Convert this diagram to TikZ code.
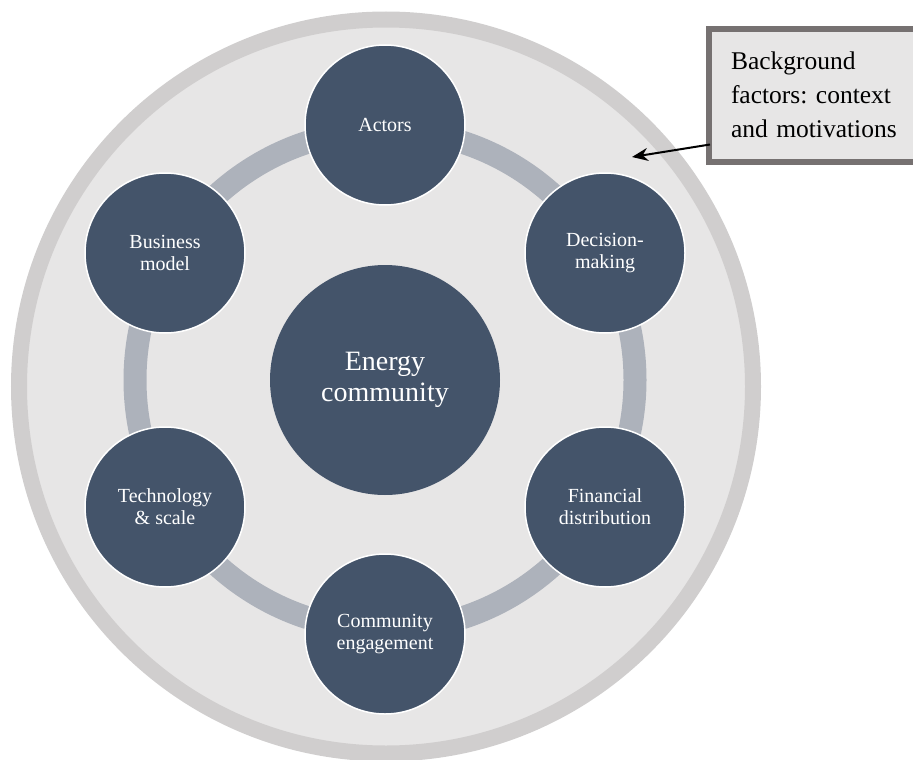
\documentclass[tikz,border=0pt]{standalone}
\usepackage{fontspec}
\setmainfont{Liberation Serif}
\usetikzlibrary{arrows.meta}
\definecolor{slate}{HTML}{44546A}
\definecolor{ringgray}{HTML}{ADB2BB}
\definecolor{paper}{HTML}{E7E6E6}
\definecolor{rimgray}{HTML}{D0CECE}
\definecolor{framegray}{HTML}{767171}
\tikzset{
  font={\fontsize{20pt}{22pt}\selectfont}}
\frenchspacing

\begin{document}
\begin{tikzpicture}[x=1pt, y=-1pt,
  topic/.style={draw=white, line width=1.5pt, fill=slate, shape=circle, minimum size=160pt, inner sep=0pt, text=white, align=center},
  hub/.style={fill=slate, shape=circle, minimum size=230pt, inner sep=0pt, text=white, align=center, font={\fontsize{28pt}{31pt}\selectfont}},
  note/.style={draw=framegray, line width=6pt, fill=paper, shape=rectangle, anchor=north west, minimum width=220pt, minimum height=132.5pt, text width=190pt, inner xsep=22pt, align=left, font={\fontsize{25.5pt}{34pt}\selectfont}}]
  \useasboundingbox (0,0) rectangle (913,760);
  \clip (0,0) rectangle (913,760);
  % outer context and inner ring
  \draw[line width=16pt, draw=rimgray, fill=paper] (386,386.5) circle (367);
  \draw[line width=23pt, draw=ringgray] (385,380) circle (250);
  \node (ec) [hub] at (385,380) {Energy\\community};
  \node (ac) [topic] at (385,125) {Actors};
  \node (dm) [topic] at (605,253) {Decision-\\making};
  \node (fd) [topic] at (605,507) {Financial\\distribution};
  \node (ce) [topic] at (385,634) {Community\\engagement};
  \node (ts) [topic] at (165,507) {Technology\\\& scale};
  \node (bm) [topic] at (165,253) {Business\\model};
  \node (bg) [note] at (706,26) {Background\\factors: context\\and motivations};
  \coordinate (tip) at (632,157);
  \draw[-{Stealth[length=16pt, width=13pt]}, line width=2pt] ([xshift=4pt, yshift=20pt]bg.south west) -- (tip);
\end{tikzpicture}
\end{document}
